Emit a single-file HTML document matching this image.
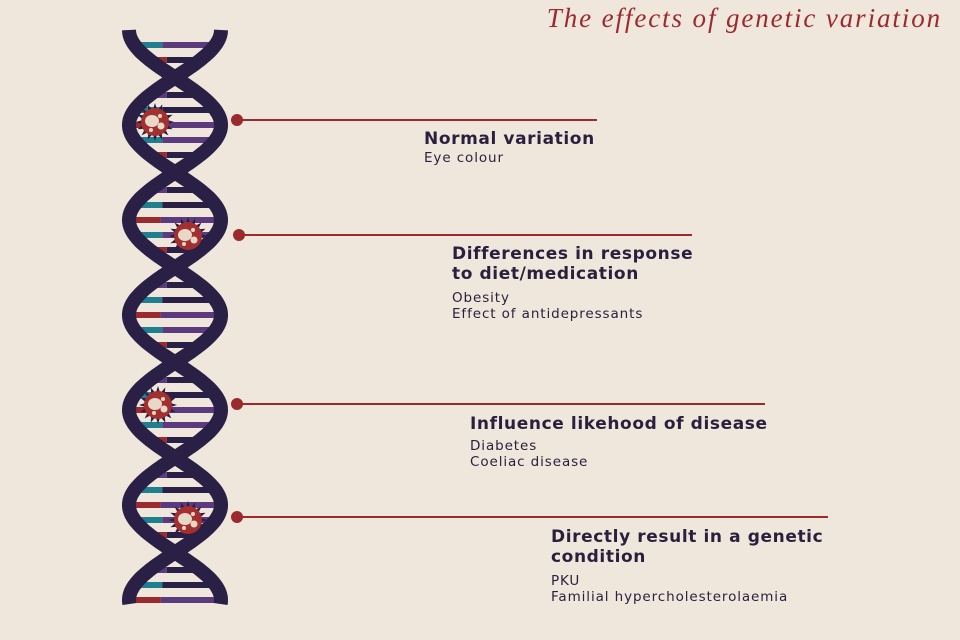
<!DOCTYPE html>
<html><head><meta charset="utf-8"><style>
html,body{margin:0;padding:0;background:#efe6dc;}
#w{position:relative;width:960px;height:640px;overflow:hidden;background:#efe6dc;font-family:"DejaVu Sans","Liberation Sans",sans-serif;color:#2a1f3d;}
.t{position:absolute;font-weight:bold;font-size:17px;line-height:20px;letter-spacing:0.6px;}
.s{position:absolute;font-size:13.5px;line-height:16px;letter-spacing:0.9px;}
#title{position:absolute;right:18px;top:3px;font-family:"Liberation Serif",serif;font-style:italic;font-size:27px;letter-spacing:1.9px;color:#9b2a2e;}
</style></head><body><div id="w">
<svg id="g" width="960" height="640" style="position:absolute;left:0;top:0">
<g id="bars"></g><g id="strands"></g><g id="muts"></g>
<g stroke="#9b2a2e" stroke-width="2" fill="#9b2a2e">
<line x1="237" y1="120" x2="597" y2="120"/><circle cx="237" cy="120" r="5"/>
<line x1="239" y1="235" x2="692" y2="235"/><circle cx="239" cy="235" r="5"/>
<line x1="237" y1="404" x2="765" y2="404"/><circle cx="237" cy="404" r="5"/>
<line x1="237" y1="517" x2="828" y2="517"/><circle cx="237" cy="517" r="5"/>
</g></svg>
<div id="title">The effects of genetic variation</div>
<div class="t" style="left:424px;top:129px">Normal variation</div>
<div class="s" style="left:424px;top:150px">Eye colour</div>
<div class="t" style="left:452px;top:244px">Differences in response<br>to diet/medication</div>
<div class="s" style="left:452px;top:290px">Obesity<br>Effect of antidepressants</div>
<div class="t" style="left:470px;top:414px">Influence likehood of disease</div>
<div class="s" style="left:470px;top:438px">Diabetes<br>Coeliac disease</div>
<div class="t" style="left:551px;top:527px">Directly result in a genetic<br>condition</div>
<div class="s" style="left:551px;top:573px">PKU<br>Familial hypercholesterolaemia</div>
</div>
<script>
var NS="http://www.w3.org/2000/svg",cx=175,A=46,y0=30,P=95,yEnd=605;
function el(p,t,a){var e=document.createElementNS(NS,t);for(var k in a)e.setAttribute(k,a[k]);document.getElementById(p).appendChild(e);}
function path(s){var d="";for(var y=y0;y<=yEnd;y+=2){var x=cx+s*A*Math.cos(Math.PI*(y-y0)/P);d+=(d?"L":"M")+x.toFixed(1)+" "+y;}return d;}
el("strands","path",{d:path(-1),stroke:"#2a1f45","stroke-width":14,fill:"none"});
el("strands","path",{d:path(1),stroke:"#2a1f45","stroke-width":14,fill:"none"});
var cols=[["#1f7f8f","#5b3a7e"],["#9b2a2e","#2a1f45"],["#5b3a7e","#2a1f45"],["#1f7f8f","#2a1f45"],["#9b2a2e","#5b3a7e"]];
var i=0;
for(var k=0;k*P+y0<=yEnd;k++){var yc=y0+k*P;[-30,-15,0,15,30].forEach(function(d){var y=yc+d;if(y<y0+6||y>yEnd-4)return;
var hw=A*Math.abs(Math.cos(Math.PI*d/P))+2;if(hw<12)return;var c=cols[i++%cols.length];
el("bars","rect",{x:cx-hw,y:y-3,width:hw*0.7,height:6,fill:c[0]});
el("bars","rect",{x:cx-hw+hw*0.7,y:y-3,width:hw*1.3,height:6,fill:c[1]});});}
[[155,122],[188,236],[158,405],[188,520]].forEach(function(p){
var d="";for(var j=0;j<32;j++){var a=j*Math.PI/16,r=j%2?12:19;d+=(j?"L":"M")+(p[0]+r*Math.cos(a)).toFixed(1)+" "+(p[1]+r*Math.sin(a)).toFixed(1);}
el("muts","path",{d:d+"Z",fill:"#2a1f45"});
el("muts","circle",{cx:p[0],cy:p[1],r:14,fill:"#a3302f"});
el("muts","ellipse",{cx:p[0]-3,cy:p[1]-1,rx:7,ry:6,fill:"#e8d8c8"});
el("muts","circle",{cx:p[0]+6,cy:p[1]+4,r:3.5,fill:"#e8d8c8"});
el("muts","circle",{cx:p[0]+5,cy:p[1]-6,r:2,fill:"#e8d8c8"});
el("muts","circle",{cx:p[0]-4,cy:p[1]+8,r:2,fill:"#e8d8c8"});});
</script>
</body></html>
